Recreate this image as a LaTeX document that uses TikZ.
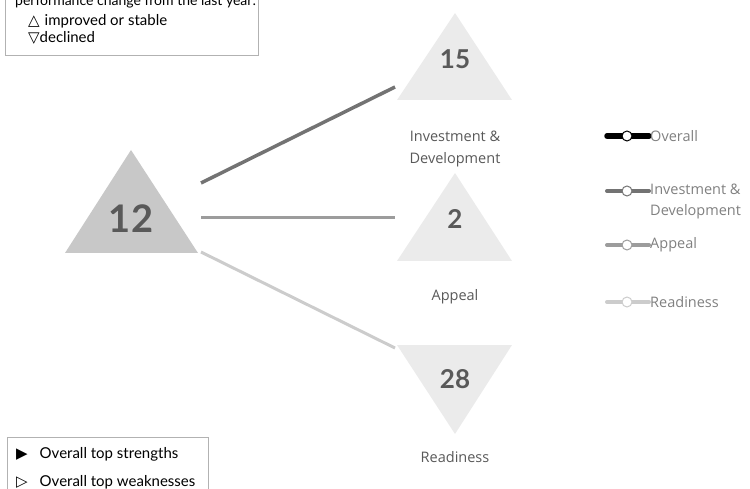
\documentclass[tikz,border=0pt]{standalone}
\usepackage{fontspec}
\setmainfont{Open Sans}
\newfontfamily\gillfont{Lato}
\newfontfamily\symfont{DejaVu Sans}
\usetikzlibrary{calc}
\definecolor{tribig}{HTML}{C8C8C8}
\definecolor{trismall}{HTML}{EBEBEB}
\definecolor{numgray}{HTML}{595959}
\definecolor{labgray}{HTML}{595959}
\definecolor{keygray}{HTML}{808080}
\definecolor{invline}{HTML}{737373}
\definecolor{appline}{HTML}{9C9C9C}
\definecolor{rdyline}{HTML}{CCCCCC}
\tikzset{
  num/.style={font=\gillfont\bfseries\fontsize{#1}{#1}\selectfont, text=numgray, inner sep=0pt},
  num/.default=26,
  lbl/.style={font=\fontsize{14.5}{22}\selectfont, text=labgray, align=center, inner sep=0pt},
  keylbl/.style={font=\fontsize{14.5}{21}\selectfont, text=keygray, align=left, anchor=west, inner sep=0pt},
  link/.style={line width=#1},
  link/.default=3pt,
  keybox/.style={draw=black!30, line width=0.8pt, fill=white, inner sep=0pt},
  keytxt/.style={font=\gillfont\fontsize{15}{15}\selectfont, anchor=west, inner sep=0pt},
  keydot/.style={circle, draw=#1, fill=white, line width=1pt, minimum size=10pt, inner sep=0pt},
}

\begin{document}
\begin{tikzpicture}[x=1pt, y=-1pt]
  \useasboundingbox (0,0) rectangle (750,489);

  % change key, top left
  \node[keybox, anchor=south west, minimum width=253pt, minimum height=80pt] (chgbox) at (5,56) {};
  \node[keytxt, font=\gillfont\fontsize{14}{14}\selectfont] (chgttl) at (15,2) {performance change from the last year:};
  \node[keytxt] (chgup) at (28,21) {{\symfont △}\hspace{5pt}improved or stable};
  \node[keytxt] (chgdn) at (28,38) {{\symfont ▽}declined};

  % triangles
  \fill[tribig] (65,253) -- (131,150) -- (198,253) -- cycle;
  \fill[trismall] (397,100) -- (455,13) -- (512,100) -- cycle;
  \fill[trismall] (397,261) -- (455,173) -- (512,261) -- cycle;
  \fill[trismall] (397,345) -- (512,345) -- (455,434) -- cycle;

  \node[num=38] (all) at (131,219) {12};
  \node[num] (inv) at (455,59) {15};
  \node[num] (app) at (455,219) {2};
  \node[num] (rdy) at (455,379) {28};

  \node[lbl] (invlbl) at (455,149) {Investment \&\\Development};
  \node[lbl] (applbl) at (455,297) {Appeal};
  \node[lbl] (rdylbl) at (455,457) {Readiness};

  % links
  \coordinate (all-a) at (201,183);
  \coordinate (all-b) at (201,218);
  \coordinate (all-c) at (201,252);
  \coordinate (inv-in) at (395,87);
  \coordinate (app-in) at (395,218);
  \coordinate (rdy-in) at (395,348);
  \draw[link=3.5pt, invline] (all-a) -- (inv-in);
  \draw[link, appline] (all-b) -- (app-in);
  \draw[link, rdyline] (all-c) -- (rdy-in);

  % line key, right
  \foreach \nm/\y/\col/\lw in {ovr/136/black/5.5, inv/191/invline/4, app/245/appline/4, rdy/302/rdyline/4}{
    \coordinate (\nm-l) at (607,\y);
    \coordinate (\nm-r) at (649,\y);
    \draw[line width=\lw pt, \col, line cap=round] (\nm-l) -- (\nm-r);
    \node[keydot=\col] (\nm-dot) at (627,\y) {};
  }
  \node[keylbl] (ovr-txt) at (650,136) {Overall};
  \node[keylbl] (inv-txt) at (650,201.5) {Investment \&\\Development};
  \node[keylbl] (app-txt) at (650,245) {Appeal};
  \node[keylbl] (rdy-txt) at (650,302) {Readiness};

  % strengths key, bottom left
  \node[keybox, anchor=north west, minimum width=201pt, minimum height=70pt] (topbox) at (7,437) {};
  \node[keytxt] (strong) at (16,454) {{\symfont ▶}\hspace{12pt}Overall top strengths};
  \node[keytxt] (weak) at (16,482) {{\symfont ▷}\hspace{12pt}Overall top weaknesses};
\end{tikzpicture}
\end{document}
